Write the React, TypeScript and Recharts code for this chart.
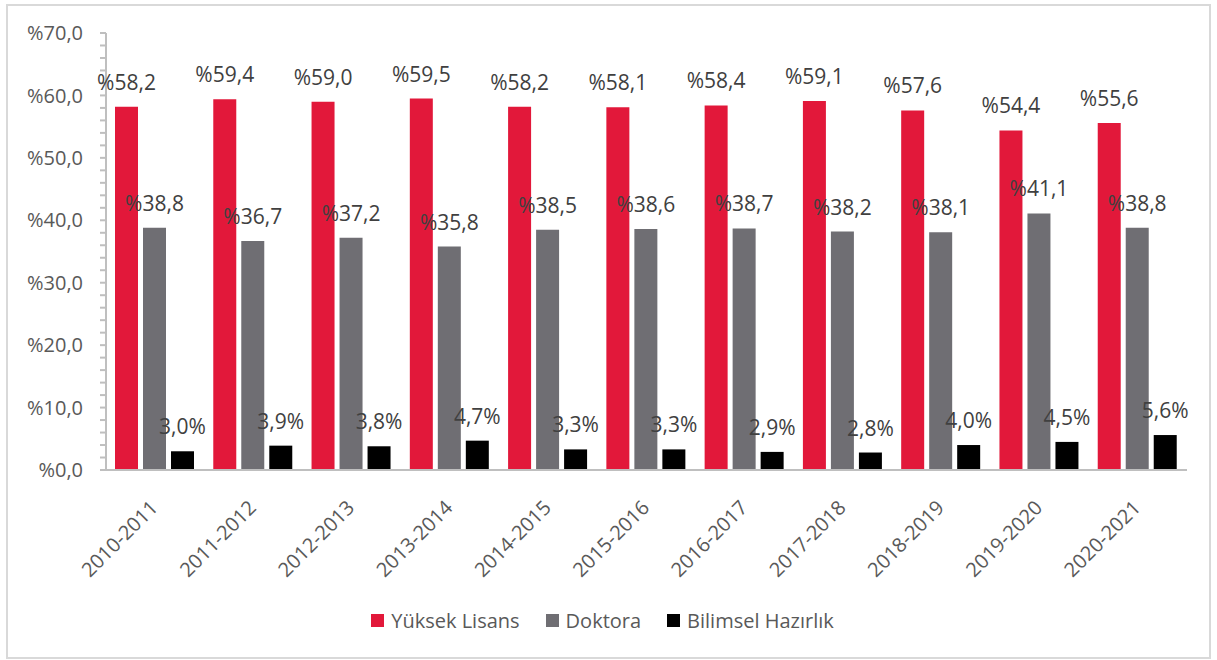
import { BarChart, Bar, XAxis, YAxis, Legend, LabelList } from "recharts";

const periods = [
  "2010-2011", "2011-2012", "2012-2013", "2013-2014", "2014-2015", "2015-2016",
  "2016-2017", "2017-2018", "2018-2019", "2019-2020", "2020-2021",
];
const yuksekLisans = [58.2, 59.4, 59.0, 59.5, 58.2, 58.1, 58.4, 59.1, 57.6, 54.4, 55.6];
const doktora = [38.8, 36.7, 37.2, 35.8, 38.5, 38.6, 38.7, 38.2, 38.1, 41.1, 38.8];
const bilimselHazirlik = [3.0, 3.9, 3.8, 4.7, 3.3, 3.3, 2.9, 2.8, 4.0, 4.5, 5.6];
const yTicks = [0, 2, 4, 6, 8, 10, 12, 14, 16, 18, 20, 22, 24, 26, 28, 30, 32, 34, 36, 38, 40, 42, 44, 46, 48, 50, 52, 54, 56, 58, 60, 62, 64, 66, 68, 70];

const series = [
  { key: "yl", name: "Yüksek Lisans", color: "#E2183A", suffix: false },
  { key: "dr", name: "Doktora", color: "#6F6E73", suffix: false },
  { key: "bh", name: "Bilimsel Hazırlık", color: "#000000", suffix: true },
];

const data = periods.map((p, i) => ({
  period: p,
  yl: yuksekLisans[i],
  dr: doktora[i],
  bh: bilimselHazirlik[i],
}));

const FONT = "'Open Sans', sans-serif";
const comma = (v: number) => v.toFixed(1).replace(".", ",");

function XTick(props: any) {
  const { x, y, payload } = props;
  const tx = x + 4;
  const ty = y + 31;
  return (
    <text
      x={tx}
      y={ty}
      transform={`rotate(-45, ${tx}, ${ty})`}
      textAnchor="end"
      fill="#595959"
      fontSize={20}
      fontFamily={FONT}
    >
      {payload.value}
    </text>
  );
}

function LegendBox() {
  return (
    <div
      style={{
        height: 30,
        display: "flex",
        justifyContent: "center",
        alignItems: "center",
        fontFamily: FONT,
        fontSize: 20,
        color: "#595959",
        paddingLeft: 8,
      }}
    >
      {series.map((s) => (
        <div key={s.key} style={{ display: "flex", alignItems: "center", margin: "0 13px" }}>
          <span style={{ width: 13, height: 13, background: s.color, marginRight: 7, display: "inline-block" }} />
          <span>{s.name}</span>
        </div>
      ))}
    </div>
  );
}

export default function App() {
  return (
    <div style={{ position: "absolute", left: 0, top: 0, width: 1217, height: 660, background: "#fff" }}>
      <div
        style={{
          position: "absolute",
          left: 6,
          top: 4,
          width: 1205,
          height: 655,
          border: "2px solid #d9d9d9",
          boxSizing: "border-box",
        }}
      />
      <div style={{ position: "absolute", left: 0, top: 0 }}>
        <BarChart
          width={1217}
          height={660}
          data={data}
          margin={{ top: 33, right: 30, bottom: 25, left: 10 }}
          barCategoryGap={9}
          barGap={5}
        >
          <XAxis
            dataKey="period"
            interval={0}
            height={135}
            tickLine={false}
            axisLine={{ stroke: "#bfbfbf", strokeWidth: 2 }}
            tick={<XTick />}
          />
          <YAxis
            domain={[0, 70]}
            ticks={yTicks}
            interval={0}
            width={96}
            tickSize={6}
            tickMargin={17}
            axisLine={{ stroke: "#bfbfbf", strokeWidth: 2 }}
            tickLine={{ stroke: "#bfbfbf", strokeWidth: 2 }}
            tick={{ fill: "#595959", fontSize: 20, fontFamily: FONT }}
            tickFormatter={(v: number) => (v % 10 === 0 ? `%${comma(v)}` : "")}
          />
          <Legend verticalAlign="bottom" height={30} content={() => <LegendBox />} />
          {series.map((s) => (
            <Bar key={s.key} dataKey={s.key} name={s.name} fill={s.color} isAnimationActive={false}>
              <LabelList
                dataKey={s.key}
                position="top"
                offset={17}
                fill="#404040"
                fontSize={21}
                fontFamily={FONT}
                formatter={(v: any) => (s.suffix ? `${comma(Number(v))}%` : `%${comma(Number(v))}`)}
              />
            </Bar>
          ))}
        </BarChart>
      </div>
    </div>
  );
}
